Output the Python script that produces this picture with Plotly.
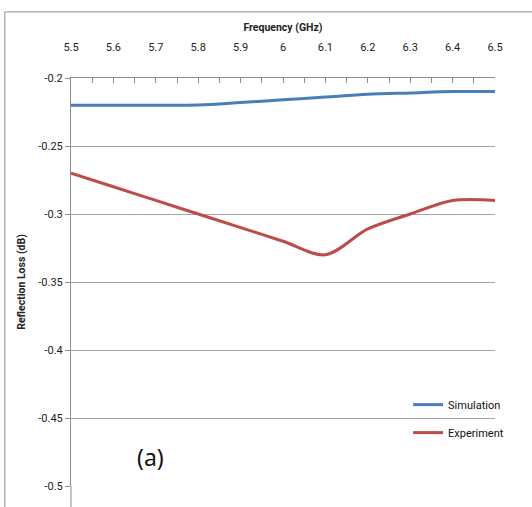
import plotly.graph_objects as go

freq = [5.5, 5.6, 5.7, 5.8, 5.9, 6.0, 6.1, 6.2, 6.3, 6.4, 6.5]
simulation = [-0.220, -0.220, -0.220, -0.2198, -0.218, -0.216, -0.214, -0.212, -0.211, -0.210, -0.210]
experiment = [-0.270, -0.280, -0.290, -0.300, -0.310, -0.320, -0.330, -0.311, -0.300, -0.290, -0.290]
y_ticks = [-0.2, -0.25, -0.3, -0.35, -0.4, -0.45, -0.5]
y_ticktext = ["-0.2", "-0.25", "-0.3", "-0.35", "-0.4", "-0.45", "-0.5"]
x_ticks = [5.5, 5.6, 5.7, 5.8, 5.9, 6.0, 6.1, 6.2, 6.3, 6.4, 6.5]
x_ticktext = ["5.5", "5.6", "5.7", "5.8", "5.9", "6", "6.1", "6.2", "6.3", "6.4", "6.5"]

FONT = "Roboto, sans-serif"

fig = go.Figure()
fig.add_trace(go.Scatter(x=freq, y=simulation, mode="lines", name="Simulation",
                         legendgroup="a",
                         line=dict(color="#4a7ebb", width=3, shape="spline", smoothing=0.9)))
fig.add_trace(go.Scatter(x=freq, y=experiment, mode="lines", name="Experiment",
                         legendgroup="b",
                         line=dict(color="#be4b48", width=3, shape="spline", smoothing=0.9)))

fig.update_layout(
    width=532, height=507,
    margin=dict(l=71, r=37, t=78, b=21),
    paper_bgcolor="white", plot_bgcolor="white",
    font=dict(family=FONT, size=11, color="#222"),
    showlegend=True,
    legend=dict(x=0.795, y=0.235, xanchor="left", yanchor="top",
                bgcolor="rgba(0,0,0,0)", font=dict(size=11, color="#111"),
                itemwidth=30, traceorder="grouped", tracegroupgap=9),
    xaxis=dict(side="top", range=[5.5, 6.5], tickvals=x_ticks, ticktext=x_ticktext,
               showgrid=False, zeroline=False, showline=True, linecolor="#8c8c8c", linewidth=1,
               ticks="inside", ticklen=5, tickcolor="#8c8c8c",
               minor=dict(dtick=0.05, ticks="inside", ticklen=5, tickcolor="#8c8c8c"),
               ticklabelstandoff=22,
               title=dict(text="<b>Frequency (GHz)</b>", font=dict(size=10.5), standoff=6)),
    yaxis=dict(range=[-0.5, -0.2], tickvals=y_ticks, ticktext=y_ticktext,
               showgrid=True, gridcolor="#a6a6a6", gridwidth=1, zeroline=False,
               showline=True, linecolor="#8c8c8c", linewidth=1,
               ticks="outside", ticklen=5, tickcolor="#8c8c8c",
               title=dict(text="<b>Reflection Loss (dB)</b>", font=dict(size=10.5), standoff=10)),
    shapes=[
        dict(type="rect", xref="paper", yref="paper", x0=-0.156, x1=1.2, y0=-0.1, y1=1.162,
             line=dict(color="#8c8c8c", width=1), fillcolor="rgba(0,0,0,0)", layer="below"),
        dict(type="line", xref="paper", yref="paper", x0=0, x1=0, y0=0, y1=-0.06,
             line=dict(color="#8c8c8c", width=1)),
    ],
    annotations=[
        dict(text="(a)", xref="paper", yref="paper", x=0.187, y=0.07, xanchor="center",
             yanchor="middle", showarrow=False,
             font=dict(family="Noto Sans, Open Sans, sans-serif", size=23, color="#111")),
    ],
)

fig.write_html("out.html")
